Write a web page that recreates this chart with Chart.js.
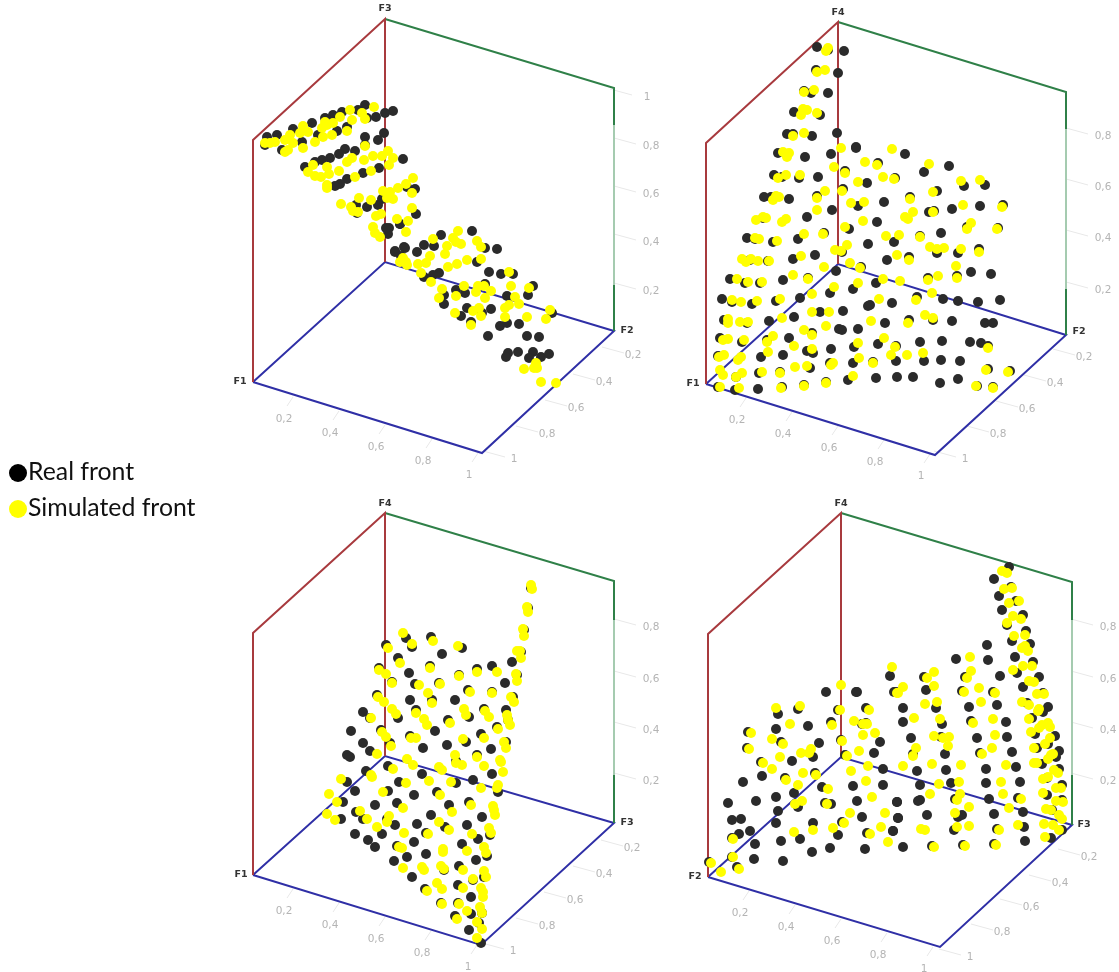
<!DOCTYPE html>
<html>
<head>
<meta charset="utf-8">
<title>Real front vs simulated front</title>
<script src="https://cdn.jsdelivr.net/npm/chart.js@4"></script>
<style>
  html, body { margin: 0; background: #fff; }
  #wrap { position: relative; width: 1119px; height: 972px; overflow: hidden; }
  canvas { position: absolute; left: 0; top: 0; }
  .key { position: absolute; left: 9px; font: 24.8px Lato, sans-serif; color: #111; line-height: 30px; white-space: nowrap; }
  .key i { display: inline-block; width: 18px; height: 18px; border-radius: 50%; vertical-align: -2px; margin-right: 1px; }
</style>
</head>
<body>
<div id="wrap">
  <canvas id="chart" width="1119" height="972"></canvas>
  <div class="key" style="top:456px"><i style="background:#000"></i>Real front</div>
  <div class="key" style="top:492px"><i style="background:#ffff00"></i>Simulated front</div>
</div>
<script>
// values, in picture-plane units of the flattened 3D views
var panel1Real = [[267,137],[277,135],[265,145],[282,150],[293,129],[302,142],[312,123],[318,135],[325,118],[333,115],[337,131],[342,112],[347,127],[358,110],[365,105],[367,118],[376,117],[385,113],[393,111],[365,137],[378,140],[384,133],[365,145],[345,149],[339,154],[355,151],[330,158],[322,160],[315,162],[305,167],[403,159],[379,168],[363,173],[347,179],[340,184],[335,186],[415,189],[407,187],[382,199],[378,205],[367,207],[357,213],[356,205],[416,214],[400,224],[389,228],[388,234],[395,252],[404,247],[417,252],[386,228],[400,224],[395,251],[405,248],[401,256],[424,245],[434,246],[441,235],[472,231],[485,248],[497,249],[477,262],[489,272],[501,274],[513,274],[439,273],[433,275],[424,277],[456,290],[465,293],[485,284],[507,296],[533,286],[528,295],[444,295],[444,304],[467,308],[461,316],[482,313],[491,309],[471,322],[500,326],[507,323],[519,324],[552,313],[488,336],[527,336],[539,337],[508,353],[506,357],[518,352],[533,352],[529,358],[541,357],[549,354]];
var panel1Sim = [[265,143],[270,143],[275,142],[285,140],[290,135],[288,150],[293,143],[285,152],[303,148],[300,133],[308,132],[303,126],[315,142],[323,137],[332,135],[322,128],[327,125],[333,123],[340,117],[325,122],[347,131],[350,110],[352,120],[362,113],[365,119],[374,107],[365,146],[313,165],[308,172],[315,176],[321,177],[327,167],[329,174],[327,185],[327,188],[339,171],[347,162],[352,158],[355,177],[364,160],[371,171],[373,156],[382,156],[388,151],[393,158],[389,165],[341,204],[351,207],[353,211],[358,212],[359,198],[371,200],[383,191],[387,198],[393,199],[390,192],[398,188],[406,184],[413,178],[412,193],[412,208],[376,216],[381,214],[397,219],[408,221],[406,232],[373,227],[375,233],[380,237],[403,258],[433,239],[447,246],[453,238],[458,231],[456,242],[461,244],[477,241],[481,247],[445,254],[430,256],[467,260],[481,259],[457,264],[448,267],[426,263],[418,264],[406,262],[400,262],[407,265],[421,273],[431,282],[509,272],[464,286],[478,286],[484,286],[476,292],[491,291],[511,286],[529,288],[442,289],[456,296],[439,298],[485,298],[515,297],[519,304],[509,305],[505,308],[479,308],[473,311],[481,316],[455,313],[505,317],[527,317],[546,319],[550,310],[471,325],[524,369],[534,368],[537,368],[536,363],[541,382],[556,383]];

var panel2Real = [[817,47],[828,50],[844,51],[816,70],[838,73],[804,91],[811,93],[828,93],[794,112],[820,115],[787,134],[793,134],[812,136],[837,133],[778,153],[805,157],[831,154],[856,147],[774,175],[782,177],[799,178],[818,177],[845,171],[867,183],[764,197],[771,197],[789,199],[817,196],[843,189],[858,206],[832,210],[763,218],[807,217],[849,229],[747,238],[755,239],[773,242],[798,239],[824,233],[868,244],[815,255],[793,259],[768,261],[750,260],[842,252],[836,271],[861,267],[730,279],[745,283],[760,283],[783,280],[808,278],[853,289],[830,293],[722,299],[732,302],[752,304],[776,301],[800,298],[868,306],[820,312],[843,311],[724,320],[747,323],[769,321],[794,317],[858,329],[839,329],[842,330],[812,333],[720,338],[742,342],[767,340],[789,338],[854,347],[831,349],[807,351],[813,353],[718,356],[761,357],[783,355],[853,363],[830,363],[810,368],[736,377],[759,373],[780,372],[848,380],[826,382],[804,385],[782,387],[758,389],[735,390],[718,387],[856,148],[905,154],[878,163],[949,166],[924,172],[895,178],[964,186],[985,185],[937,191],[910,197],[884,202],[1003,205],[980,206],[952,209],[929,212],[934,211],[877,222],[941,233],[967,227],[998,228],[894,242],[920,236],[937,253],[958,253],[979,249],[887,260],[909,257],[971,272],[991,274],[928,278],[957,276],[876,283],[917,297],[943,299],[958,301],[978,302],[1000,300],[870,305],[892,303],[952,321],[985,323],[993,323],[933,320],[885,323],[909,320],[878,344],[920,342],[942,341],[970,342],[981,343],[988,346],[896,346],[896,361],[924,361],[941,360],[960,361],[873,362],[988,369],[1010,371],[876,378],[897,377],[913,377],[940,383],[958,379],[977,386],[993,387]];
var panel2Sim = [[828,48],[826,51],[817,72],[825,70],[814,90],[804,92],[803,109],[807,110],[801,115],[817,113],[793,136],[804,133],[783,152],[789,153],[787,157],[841,148],[865,162],[834,167],[845,173],[778,178],[786,175],[800,175],[858,182],[825,191],[842,191],[776,196],[779,197],[773,200],[817,198],[851,203],[864,202],[817,210],[863,221],[845,227],[756,220],[763,217],[766,218],[786,219],[782,222],[804,234],[823,234],[755,238],[759,239],[777,241],[847,245],[835,250],[841,251],[801,256],[742,259],[751,259],[758,261],[769,261],[746,262],[850,263],[824,267],[860,268],[793,275],[808,279],[737,279],[748,282],[762,282],[858,283],[834,287],[812,294],[732,300],[741,302],[757,301],[780,299],[812,312],[829,312],[782,318],[728,319],[728,323],[740,322],[748,322],[826,326],[804,330],[812,335],[773,336],[728,339],[723,340],[744,340],[767,342],[794,346],[858,343],[812,349],[768,352],[724,355],[719,357],[741,357],[738,360],[859,358],[833,363],[831,365],[795,367],[807,366],[720,370],[723,375],[742,373],[736,377],[762,372],[780,373],[853,376],[826,383],[720,387],[739,388],[781,388],[804,386],[892,149],[877,165],[929,164],[883,177],[894,179],[961,181],[980,180],[933,192],[910,199],[963,205],[1002,207],[913,212],[933,212],[905,217],[908,219],[971,223],[967,229],[997,229],[886,236],[899,235],[920,237],[930,247],[937,249],[944,248],[961,249],[979,252],[897,255],[909,260],[956,266],[938,276],[928,280],[957,278],[883,279],[900,281],[932,293],[879,299],[916,300],[925,315],[933,318],[871,321],[908,323],[884,338],[895,347],[988,348],[891,355],[907,355],[923,353],[873,363],[986,370],[1008,372],[976,386],[993,388]];

var panel3Real = [[531,588],[528,608],[524,630],[521,652],[512,662],[517,675],[505,683],[513,697],[492,666],[477,669],[459,675],[462,648],[442,654],[431,637],[406,638],[412,647],[386,645],[398,658],[409,673],[430,666],[379,668],[392,682],[415,684],[439,683],[468,690],[492,692],[377,695],[410,700],[432,700],[455,700],[469,717],[484,709],[506,710],[416,710],[398,718],[363,712],[370,718],[448,720],[497,727],[508,720],[351,731],[381,730],[435,731],[410,736],[481,734],[466,742],[390,743],[363,743],[370,751],[423,748],[447,745],[491,749],[506,742],[347,755],[350,757],[477,755],[456,761],[388,766],[366,771],[422,774],[347,782],[399,782],[456,783],[473,780],[492,774],[355,791],[388,791],[414,795],[437,792],[498,792],[343,802],[375,805],[397,803],[449,805],[469,802],[356,812],[363,819],[341,819],[387,819],[431,815],[482,817],[395,825],[417,824],[445,827],[467,825],[355,834],[382,834],[426,833],[490,835],[478,839],[368,840],[375,847],[414,842],[462,844],[397,846],[487,856],[426,854],[407,857],[476,860],[394,861],[459,866],[444,870],[484,877],[412,877],[425,889],[458,885],[473,880],[471,897],[441,903],[458,903],[471,914],[455,916],[482,913],[469,930],[479,923],[481,943]];
var panel3Sim = [[531,585],[532,589],[527,607],[528,612],[523,629],[524,636],[517,651],[520,651],[521,658],[516,674],[517,681],[497,672],[477,672],[459,676],[458,646],[430,668],[433,641],[403,633],[412,644],[388,648],[400,663],[379,670],[386,674],[392,683],[419,685],[440,684],[428,693],[470,692],[492,693],[511,697],[514,702],[378,697],[384,702],[432,703],[392,709],[396,714],[464,709],[466,715],[485,711],[489,717],[507,715],[508,720],[510,725],[416,713],[371,718],[424,719],[427,725],[450,723],[498,729],[382,732],[386,737],[411,738],[416,738],[463,739],[484,738],[504,742],[506,748],[391,746],[377,754],[455,755],[477,757],[407,759],[500,760],[413,765],[393,769],[371,775],[372,777],[439,767],[442,770],[456,763],[462,765],[484,766],[501,762],[503,772],[429,781],[451,782],[406,783],[341,779],[481,788],[498,785],[497,788],[383,792],[440,795],[329,794],[337,802],[471,805],[403,808],[360,811],[452,812],[493,806],[494,810],[495,815],[327,814],[335,820],[367,819],[389,816],[387,822],[439,822],[377,827],[449,830],[428,834],[404,833],[489,828],[491,833],[472,834],[399,847],[402,848],[484,847],[486,853],[443,849],[443,852],[467,851],[422,867],[424,870],[441,866],[444,869],[403,868],[463,870],[484,871],[486,877],[473,879],[437,883],[427,891],[442,889],[463,888],[481,888],[483,892],[483,897],[442,904],[459,904],[480,907],[467,911],[457,919],[482,913],[477,922],[482,929],[477,938]];

var panel4Real = [[826,692],[856,692],[857,692],[894,692],[778,714],[798,709],[838,710],[866,708],[776,729],[808,726],[831,722],[862,724],[866,723],[748,732],[781,742],[819,743],[841,740],[880,742],[747,748],[813,757],[845,755],[874,753],[761,762],[792,761],[815,773],[883,769],[762,776],[743,782],[785,778],[853,786],[883,785],[822,787],[794,793],[728,803],[756,801],[776,797],[825,803],[831,804],[857,801],[897,802],[798,807],[778,811],[732,820],[741,819],[862,817],[898,818],[776,823],[813,823],[842,822],[750,831],[739,834],[893,831],[838,835],[867,833],[732,838],[800,839],[755,844],[781,841],[830,848],[865,849],[812,852],[732,857],[754,859],[783,861],[709,862],[737,867],[1009,567],[994,579],[1011,587],[999,596],[1016,601],[1002,610],[1023,615],[1007,625],[1026,631],[1012,641],[1030,644],[987,645],[956,659],[988,660],[1015,657],[1033,662],[1017,673],[1000,676],[1039,677],[924,677],[965,677],[890,676],[1023,687],[926,690],[896,692],[962,691],[993,692],[1043,693],[1027,703],[1048,707],[903,708],[936,708],[969,707],[997,705],[1043,712],[1032,718],[903,722],[942,724],[971,721],[1006,722],[1035,734],[1055,736],[911,738],[941,737],[977,738],[1007,737],[913,754],[945,754],[980,753],[1012,752],[1037,748],[1048,744],[1059,751],[1056,757],[1042,764],[917,771],[946,770],[986,769],[1016,767],[1059,769],[920,785],[951,783],[986,783],[1020,782],[1047,778],[1062,785],[897,802],[920,800],[918,801],[955,799],[989,799],[1018,798],[1047,795],[1062,800],[898,818],[927,815],[962,815],[958,817],[994,814],[1023,812],[1052,810],[893,831],[954,830],[997,829],[1024,827],[1062,830],[903,847],[932,846],[963,845],[994,844],[1025,841],[1051,838]];
var panel4Sim = [[841,685],[897,693],[776,708],[800,706],[840,710],[869,710],[790,724],[832,725],[854,721],[863,724],[867,724],[751,733],[875,733],[863,735],[772,739],[783,744],[842,741],[749,749],[811,749],[801,753],[809,753],[859,751],[780,757],[847,756],[763,763],[772,769],[868,766],[851,771],[803,773],[816,775],[786,780],[866,781],[798,785],[828,789],[872,797],[802,801],[795,804],[827,804],[850,813],[885,813],[844,823],[881,827],[833,828],[813,830],[794,832],[870,834],[888,842],[733,839],[733,857],[711,863],[739,869],[721,872],[1007,573],[1002,571],[1004,589],[1012,588],[1009,603],[1019,601],[1013,616],[1021,619],[1007,623],[1025,635],[1014,636],[1022,648],[1025,646],[1028,651],[970,657],[1023,666],[1032,666],[1013,670],[971,671],[892,667],[934,672],[927,678],[967,678],[1029,681],[1034,682],[934,686],[903,687],[898,693],[979,688],[964,692],[995,693],[1037,694],[1044,694],[1022,702],[1029,705],[981,702],[937,702],[925,704],[1039,709],[1038,711],[1029,719],[914,718],[940,719],[993,719],[973,723],[1048,723],[1042,725],[1050,727],[1039,728],[1031,732],[934,736],[949,737],[943,738],[995,735],[1050,738],[916,748],[913,756],[948,746],[982,754],[992,748],[1034,748],[1045,744],[1051,755],[1048,759],[1053,754],[1034,763],[1037,763],[903,766],[932,764],[961,765],[1006,765],[1054,770],[1058,773],[1048,777],[1043,779],[939,784],[959,782],[1001,782],[1056,788],[1061,788],[1043,793],[930,794],[1003,794],[960,794],[957,800],[1021,799],[1056,801],[1063,802],[969,807],[1009,808],[1046,809],[1051,810],[1059,815],[1062,819],[955,813],[1044,824],[1053,825],[969,826],[1018,825],[957,827],[921,829],[925,830],[999,830],[1059,830],[1045,837],[934,847],[965,846],[996,845]];

// box edges of each view: red wall, green wall, blue floor
var panel1Red = [[253,382],[253,140],[385,19],[385,262]];
var panel1Green = [[385,19],[614,88],[614,331]];
var panel1Blue = [[253,382],[385,262],[614,331],[482,453],[253,382]];
var panel2Red = [[706,384],[706,143],[838,22],[838,264]];
var panel2Green = [[838,22],[1066,92],[1066,335]];
var panel2Blue = [[706,384],[838,264],[1066,335],[935,455],[706,384]];
var panel3Red = [[253,875],[253,633],[385,513],[385,756]];
var panel3Green = [[385,513],[614,581],[614,823]];
var panel3Blue = [[253,875],[385,756],[614,823],[481,945],[253,875]];
var panel4Red = [[708,877],[708,634],[841,513],[841,757]];
var panel4Green = [[841,513],[1072,582],[1072,825]];
var panel4Blue = [[708,877],[841,757],[1072,825],[940,947],[708,877]];
// the right hand upright fades out along its middle
var panel1Fade = [[614,125],[614,285]];
var panel2Fade = [[1066,129],[1066,289]];
var panel3Fade = [[614,620],[614,775]];
var panel4Fade = [[1072,620],[1072,775]];

// axis names and tick labels
var axisNames = [['F3',385,9],['F1',240,382],['F2',627,331],['F4',838,13],['F1',693,384],['F2',1079,332],['F4',385,504],['F1',241,875],['F3',627,823],['F4',841,504],['F2',695,877],['F3',1084,825]];
var wallTicks = [['1',647,97],['0,8',651,146],['0,6',651,194],['0,4',651,242],['0,2',651,291],['0,8',1103,136],['0,6',1103,187],['0,4',1103,238],['0,2',1103,290],['0,8',651,627],['0,6',651,679],['0,4',651,730],['0,2',651,781],['0,8',1108,627],['0,6',1108,679],['0,4',1108,730],['0,2',1108,781]];
var sideTicks = [['0,2',633,355],['0,4',604,382],['0,6',576,408],['0,8',547,434],['1',514,459],['0,2',1084,357],['0,4',1055,383],['0,6',1027,409],['0,8',998,434],['1',965,459],['0,2',632,848],['0,4',604,874],['0,6',575,900],['0,8',547,926],['1',513,951],['0,2',1089,857],['0,4',1060,883],['0,6',1031,907],['0,8',1002,932],['1',970,957]];
var frontTicks = [['0,2',284,419],['0,4',330,433],['0,6',376,447],['0,8',423,461],['1',469,475],['0,2',737,420],['0,4',783,434],['0,6',829,448],['0,8',875,462],['1',921,476],['0,2',284,911],['0,4',330,925],['0,6',376,939],['0,8',422,953],['1',468,967],['0,2',740,913],['0,4',786,927],['0,6',832,941],['0,8',878,955],['1',924,969]];

function toXY(pairs){
    return pairs.map(function(p){ return {x: p[0], y: p[1]}; });
}

function pointSet(label, pairs, color){
    return {type: 'scatter', label: label, data: toXY(pairs), backgroundColor: color, borderColor: color, pointRadius: 5, pointBorderWidth: 0, clip: false};
}

function lineSet(pairs, color, width){
    return {type: 'line', data: pairs, parsing: false, borderColor: color, borderWidth: width, pointRadius: 0, fill: false, tension: 0, spanGaps: false};
}

// short pale tick strokes next to each label, broken up with nulls
function tickStrokes(labels, dx1, dy1, dx2, dy2){
    var out = [];
    labels.forEach(function(t){
        out.push({x: t[1] + dx1, y: t[2] + dy1}, {x: t[1] + dx2, y: t[2] + dy2}, {x: null, y: null});
    });
    return out;
}

var datasets = [];

// Chart.js paints the first dataset on top, so yellow goes first, then black, then the box
[panel1Sim, panel2Sim, panel3Sim, panel4Sim].forEach(function(p){
    datasets.push(pointSet('Simulated front', p, '#ffff00'));
});
[panel1Real, panel2Real, panel3Real, panel4Real].forEach(function(p){
    datasets.push(pointSet('Real front', p, '#2b2b2b'));
});
[panel1Red, panel2Red, panel3Red, panel4Red].forEach(function(p){
    datasets.push(lineSet(toXY(p), '#a83a3e', 2));
});
[panel1Fade, panel2Fade, panel3Fade, panel4Fade].forEach(function(p){
    datasets.push(lineSet(toXY(p), '#a5cbb0', 2));
});
[panel1Green, panel2Green, panel3Green, panel4Green].forEach(function(p){
    datasets.push(lineSet(toXY(p), '#2f8048', 2));
});
[panel1Blue, panel2Blue, panel3Blue, panel4Blue].forEach(function(p){
    datasets.push(lineSet(toXY(p), '#2f2fa6', 2));
});
datasets.push(lineSet(tickStrokes(wallTicks, -37, -8, -15, -2), '#e8e8e8', 1));
datasets.push(lineSet(tickStrokes(sideTicks, -31, -8, -9, -2), '#e8e8e8', 1));
datasets.push(lineSet(tickStrokes(frontTicks, 9, -22, 3, -13), '#e8e8e8', 1));

// draws axis names and tick labels at their places on the chart scales
var textPlugin = {
    id: 'boxText',
    afterDatasetsDraw: function(chart){
        var ctx = chart.ctx;
        var sx = chart.scales.x, sy = chart.scales.y;
        ctx.save();
        ctx.textAlign = 'center';
        ctx.textBaseline = 'middle';
        ctx.fillStyle = '#b4b4b4';
        ctx.font = '10.5px "DejaVu Sans"';
        wallTicks.concat(sideTicks, frontTicks).forEach(function(t){
            ctx.fillText(t[0], sx.getPixelForValue(t[1]), sy.getPixelForValue(t[2]));
        });
        ctx.fillStyle = '#333';
        ctx.font = 'bold 9.5px "DejaVu Sans"';
        axisNames.forEach(function(t){
            ctx.fillText(t[0], sx.getPixelForValue(t[1]), sy.getPixelForValue(t[2]));
        });
        ctx.restore();
    }
};

new Chart(document.getElementById('chart'), {
    type: 'scatter',
    data: {datasets: datasets},
    options: {
        responsive: false,
        animation: false,
        layout: {padding: 0, autoPadding: false},
        plugins: {legend: {display: false}, tooltip: {enabled: false}},
        scales: {
            x: {type: 'linear', min: 0, max: 1119, display: false},
            y: {type: 'linear', min: 0, max: 972, reverse: true, display: false}
        }
    },
    plugins: [textPlugin]
});
</script>
</body>
</html>
